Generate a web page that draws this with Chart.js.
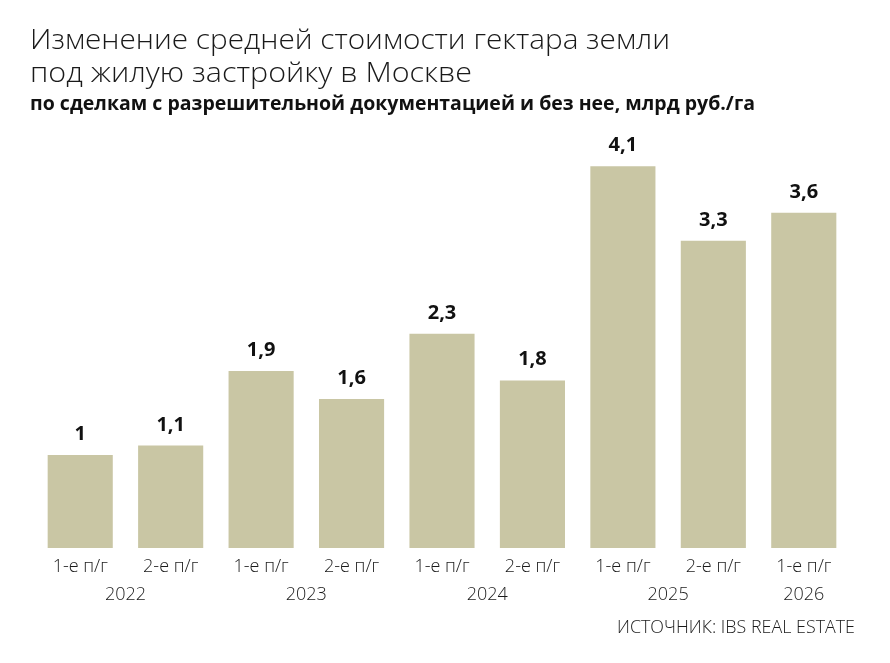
<!DOCTYPE html>
<html>
<head>
<meta charset="utf-8">
<script src="https://cdn.jsdelivr.net/npm/chart.js@4"></script>
<style>
  body { margin: 0; background: #fff; }
  #wrap { position: relative; width: 890px; height: 663px; overflow: hidden; }
  #myChart { position: absolute; left: 0; top: 0; }
  .txt { position: absolute; white-space: nowrap; transform-origin: 0 0; font-family: "Open Sans", sans-serif; line-height: 1.362; }
  #t1, #t2 { left: 30px; font-size: 28px; font-weight: 300; color: #1a1a1a; }
  #t1 { top: 19px; }
  #t2 { top: 52px; }
  #sub { left: 30px; top: 91px; font-size: 19px; font-weight: 700; color: #111; }
  #src { left: 617px; top: 614px; font-size: 19px; font-weight: 300; color: #1a1a1a; }
</style>
</head>
<body>
<div id="wrap">
  <canvas id="myChart" width="890" height="663"></canvas>
  <div class="txt" id="t1" data-w="640">Изменение средней стоимости гектара земли</div>
  <div class="txt" id="t2" data-w="442">под жилую застройку в Москве</div>
  <div class="txt" id="sub" data-w="725">по сделкам с разрешительной документацией и без нее, млрд руб./га</div>
  <div class="txt" id="src" data-w="238">ИСТОЧНИК: IBS REAL ESTATE</div>
</div>
<script>
// squeeze the headings to the width they take in the original
document.querySelectorAll(".txt").forEach(el => {
    const w = el.getBoundingClientRect().width;
    el.style.transform = "scaleX(" + (el.dataset.w / w) + ")";
});

const labels = ["1-е п/г", "2-е п/г", "1-е п/г", "2-е п/г", "1-е п/г", "2-е п/г", "1-е п/г", "2-е п/г", "1-е п/г"];
const values = [1, 1.1, 1.9, 1.6, 2.3, 1.8, 4.1, 3.3, 3.6];
const valueLabels = ["1", "1,1", "1,9", "1,6", "2,3", "1,8", "4,1", "3,3", "3,6"];
const years = ["2022", "2023", "2024", "2025", "2026"];
// first and last bar index belonging to each year
const yearSpans = [[0, 1], [2, 3], [4, 5], [6, 7], [8, 8]];

const barValues = {
    id: "barValues",
    afterDatasetsDraw(chart) {
        const ctx = chart.ctx;
        const meta = chart.getDatasetMeta(0);
        ctx.save();
        ctx.font = "bold 20px 'Open Sans'";
        ctx.fillStyle = "#111";
        ctx.textAlign = "center";
        ctx.textBaseline = "alphabetic";
        meta.data.forEach((bar, i) => {
            ctx.fillText(valueLabels[i], bar.x, bar.y - 15);
        });
        ctx.restore();
    }
};

const yearLabels = {
    id: "yearLabels",
    afterDraw(chart) {
        const ctx = chart.ctx;
        const x = chart.scales.x;
        ctx.save();
        ctx.font = "300 18px 'Open Sans'";
        ctx.fillStyle = "#1a1a1a";
        ctx.textAlign = "center";
        ctx.textBaseline = "alphabetic";
        years.forEach((y, i) => {
            const [a, b] = yearSpans[i];
            const cx = (x.getPixelForValue(a) + x.getPixelForValue(b)) / 2;
            ctx.fillText(y, cx, 600);
        });
        ctx.restore();
    }
};

const ctx = document.getElementById("myChart").getContext("2d");

const config = {
    type: "bar",
    data: {
        labels,
        datasets: [
            {
                data: values,
                backgroundColor: "#c9c6a4",
                barPercentage: 0.72,
                categoryPercentage: 1,
            },
        ],
    },
    options: {
        responsive: false,
        animation: false,
        layout: {
            padding: { left: 35, right: 41, top: 129, bottom: 0 },
        },
        plugins: {
            legend: { display: false },
            tooltip: { enabled: false },
        },
        scales: {
            x: {
                grid: { display: false, drawTicks: false },
                border: { display: false },
                ticks: {
                    padding: 8,
                    color: "#1a1a1a",
                    font: { family: "Open Sans", size: 18, weight: 300 },
                    maxRotation: 0,
                },
                afterFit: (scale) => {
                    scale.height = 115;
                },
            },
            y: {
                display: false,
                min: 0,
                max: 4.5,
            },
        },
    },
    plugins: [barValues, yearLabels],
};

const myChart = new Chart(ctx, config);
</script>
</body>
</html>
